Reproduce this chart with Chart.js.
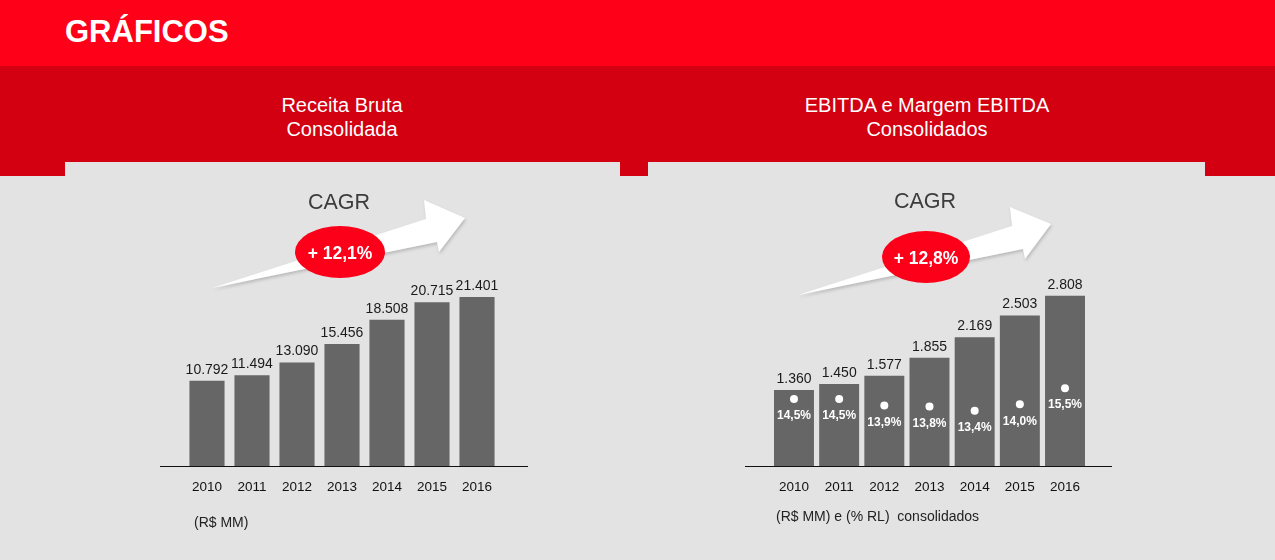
<!DOCTYPE html>
<html>
<head>
<meta charset="utf-8">
<script src="https://cdn.jsdelivr.net/npm/chart.js"></script>
<style>
    body { margin: 0; width: 1275px; height: 560px; background: #e3e3e3; position: relative; overflow: hidden;
           font-family: "Liberation Sans", Arial, Helvetica, sans-serif; }
    .topo { position: absolute; left: 0; top: 0; width: 1275px; height: 66px; background: #ff0019; }
    .faixa { position: absolute; left: 0; top: 66px; width: 1275px; height: 110px; background: #d20011; }
    .painel { position: absolute; top: 162px; height: 14px; background: #e3e3e3; }
    .titulo { position: absolute; left: 65px; top: 13px; color: #fff; font-weight: bold; font-size: 31px; line-height: 38px; }
    .subtitulo { position: absolute; top: 93px; width: 400px; text-align: center; color: #fff; font-size: 20px; line-height: 24px; }
    .nota { position: absolute; color: #222; font-size: 14px; white-space: pre; line-height: 16px; }
    canvas { position: absolute; top: 176px; }
    svg { position: absolute; left: 0; top: 0; }
</style>
</head>
<body>
<div class="topo"></div>
<div class="faixa"></div>
<div class="painel" style="left:65px;width:555px"></div>
<div class="painel" style="left:648px;width:557px"></div>
<div class="titulo">GRÁFICOS</div>
<div class="subtitulo" style="left:142px">Receita Bruta<br>Consolidada</div>
<div class="subtitulo" style="left:727px">EBITDA e Margem EBITDA<br>Consolidados</div>

<canvas id="receitaChart" width="420" height="364" style="left:140px"></canvas>
<canvas id="ebitdaChart" width="420" height="364" style="left:720px"></canvas>

<svg width="1275" height="560" viewBox="0 0 1275 560">
    <defs>
        <filter id="sombra" x="-10%" y="-30%" width="120%" height="160%">
            <feDropShadow dx="1" dy="2" stdDeviation="1.5" flood-color="#888" flood-opacity="0.45"/>
        </filter>
    </defs>
    <g id="cagrEsq">
        <text x="339" y="202" text-anchor="middle" dominant-baseline="central" font-size="21.5" fill="#3c3c3c">CAGR</text>
        <polygon points="212,288 426,219 424,200 465,218 439,252 437,242" fill="#fff" filter="url(#sombra)"/>
        <ellipse cx="340" cy="252" rx="45" ry="26" fill="#fc0019"/>
        <text x="340" y="253" text-anchor="middle" dominant-baseline="central" font-size="17.5" font-weight="bold" fill="#fff">+ 12,1%</text>
    </g>
    <g id="cagrDir">
        <text x="925" y="201" text-anchor="middle" dominant-baseline="central" font-size="21.5" fill="#3c3c3c">CAGR</text>
        <polygon points="798,295 1012,226 1010,207 1051,224 1025,259 1023,249" fill="#fff" filter="url(#sombra)"/>
        <ellipse cx="926" cy="257" rx="44" ry="26" fill="#fc0019"/>
        <text x="926" y="258" text-anchor="middle" dominant-baseline="central" font-size="17.5" font-weight="bold" fill="#fff">+ 12,8%</text>
    </g>
</svg>

<div class="nota" style="left:194px;top:514px">(R$ MM)</div>
<div class="nota" style="left:776px;top:508px">(R$ MM) e (% RL)  consolidados</div>

<script>
const anos = ['2010', '2011', '2012', '2013', '2014', '2015', '2016'];
const receitaBruta = [10792, 11494, 13090, 15456, 18508, 20715, 21401];
const ebitda = [1360, 1450, 1577, 1855, 2169, 2503, 2808];
const margemEbitda = [14.5, 14.5, 13.9, 13.8, 13.4, 14.0, 15.5];

const fonte = '"Liberation Sans", Arial, sans-serif';

const milhar = v => String(v).replace(/\B(?=(\d{3})+(?!\d))/g, '.');
const pct = v => v.toFixed(1).replace('.', ',') + '%';

// linha de base e rótulos de valor
const rotulos = {
    id: 'rotulos',
    beforeDatasetsDraw(chart, args, opts) {
        const ctx = chart.ctx;
        const y = Math.round(chart.chartArea.bottom) + 0.5;
        ctx.save();
        ctx.strokeStyle = '#111';
        ctx.lineWidth = 1;
        ctx.beginPath();
        ctx.moveTo(opts.linhaIni, y);
        ctx.lineTo(opts.linhaFim, y);
        ctx.stroke();
        ctx.restore();
    },
    afterDatasetsDraw(chart) {
        const ctx = chart.ctx;
        ctx.save();
        ctx.textAlign = 'center';
        ctx.textBaseline = 'middle';

        const barras = chart.getDatasetMeta(0).data;
        const valores = chart.data.datasets[0].data;
        ctx.font = '14px ' + fonte;
        ctx.fillStyle = '#1a1a1a';
        barras.forEach((b, i) => ctx.fillText(milhar(valores[i]), b.x, b.y - 11));

        if (chart.data.datasets.length > 1) {
            const pontos = chart.getDatasetMeta(1).data;
            const margens = chart.data.datasets[1].data;
            ctx.font = 'bold 12px ' + fonte;
            ctx.fillStyle = '#fff';
            pontos.forEach((p, i) => ctx.fillText(pct(margens[i]), p.x, p.y + 17));
        }
        ctx.restore();
    }
};

const eixoX = {
    grid: { display: false, drawTicks: false },
    border: { display: false },
    ticks: { color: '#111', font: { family: fonte, size: 13.5 }, padding: 13 },
    afterFit: s => { s.height = 40; }
};

new Chart(document.getElementById('receitaChart'), {
    type: 'bar',
    data: {
        labels: anos,
        datasets: [{
            label: 'Receita Bruta',
            data: receitaBruta,
            backgroundColor: '#666666',
            categoryPercentage: 1,
            barPercentage: 0.78
        }]
    },
    options: {
        responsive: false,
        animation: false,
        events: [],
        layout: { padding: { left: 44.5, right: 60.5, top: 92.5, bottom: 34 } },
        scales: {
            x: eixoX,
            y: { display: false, min: 0, max: 25000 }
        },
        plugins: {
            legend: { display: false },
            tooltip: { enabled: false },
            rotulos: { linhaIni: 20, linhaFim: 388 }
        }
    },
    plugins: [rotulos]
});

new Chart(document.getElementById('ebitdaChart'), {
    type: 'bar',
    data: {
        labels: anos,
        datasets: [{
            label: 'EBITDA',
            data: ebitda,
            backgroundColor: '#666666',
            categoryPercentage: 1,
            barPercentage: 0.885,
            order: 2
        }, {
            type: 'line',
            label: 'Margem EBITDA',
            data: margemEbitda,
            yAxisID: 'y1',
            showLine: false,
            pointRadius: 4,
            pointBackgroundColor: '#fff',
            pointBorderWidth: 0,
            order: 1
        }]
    },
    options: {
        responsive: false,
        animation: false,
        events: [],
        layout: { padding: { left: 51.4, right: 52.4, top: 94.3, bottom: 34 } },
        scales: {
            x: eixoX,
            y: { display: false, min: 190, max: 3200 },
            y1: { display: false, min: 8.3, max: 26.4 }
        },
        plugins: {
            legend: { display: false },
            tooltip: { enabled: false },
            rotulos: { linhaIni: 25, linhaFim: 392 }
        }
    },
    plugins: [rotulos]
});
</script>
</body>
</html>
